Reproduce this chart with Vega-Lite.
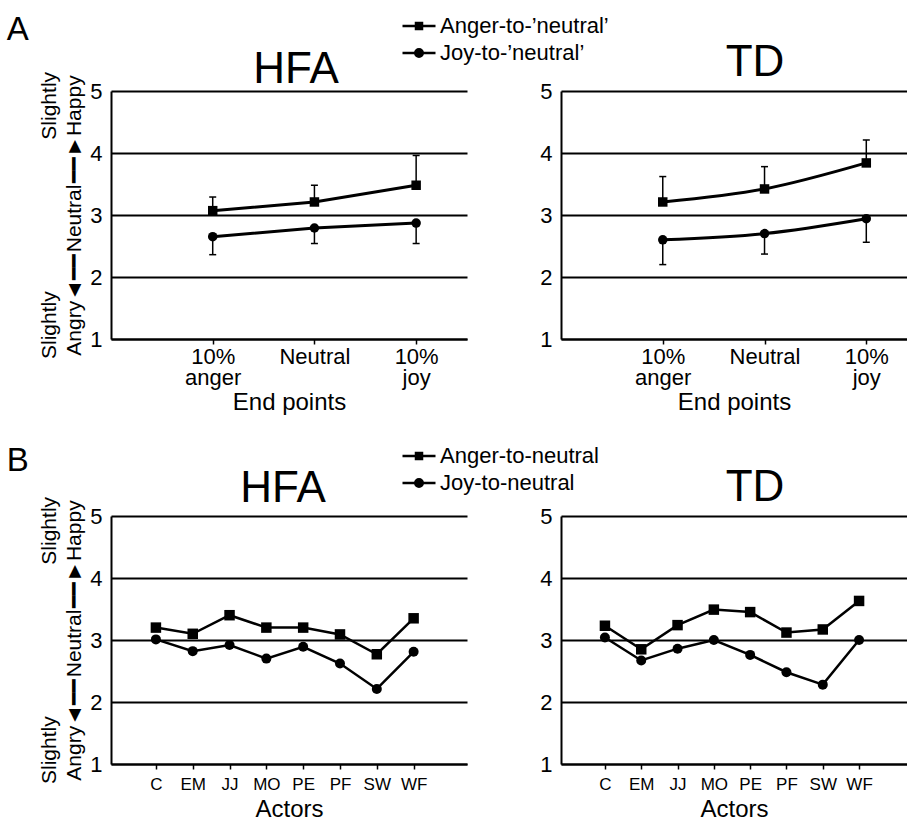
{
  "$schema": "https://vega.github.io/schema/vega-lite/v6.json",
  "background": "white",
  "padding": {"left": 6, "top": 14, "right": 0, "bottom": 0},
  "datasets": {
    "ends": [
      {"group": "HFA", "series": "Anger-to-’neutral’", "endpoint": "10% anger", "pos": 1, "mean": 3.07, "err": 3.29},
      {"group": "HFA", "series": "Anger-to-’neutral’", "endpoint": "Neutral", "pos": 2, "mean": 3.21, "err": 3.48},
      {"group": "HFA", "series": "Anger-to-’neutral’", "endpoint": "10% joy", "pos": 3, "mean": 3.48, "err": 3.96},
      {"group": "HFA", "series": "Joy-to-’neutral’", "endpoint": "10% anger", "pos": 1, "mean": 2.65, "err": 2.36},
      {"group": "HFA", "series": "Joy-to-’neutral’", "endpoint": "Neutral", "pos": 2, "mean": 2.79, "err": 2.54},
      {"group": "HFA", "series": "Joy-to-’neutral’", "endpoint": "10% joy", "pos": 3, "mean": 2.87, "err": 2.54},
      {"group": "TD", "series": "Anger-to-’neutral’", "endpoint": "10% anger", "pos": 1, "mean": 3.21, "err": 3.62},
      {"group": "TD", "series": "Anger-to-’neutral’", "endpoint": "Neutral", "pos": 2, "mean": 3.42, "err": 3.78},
      {"group": "TD", "series": "Anger-to-’neutral’", "endpoint": "10% joy", "pos": 3, "mean": 3.84, "err": 4.21},
      {"group": "TD", "series": "Joy-to-’neutral’", "endpoint": "10% anger", "pos": 1, "mean": 2.60, "err": 2.20},
      {"group": "TD", "series": "Joy-to-’neutral’", "endpoint": "Neutral", "pos": 2, "mean": 2.70, "err": 2.37},
      {"group": "TD", "series": "Joy-to-’neutral’", "endpoint": "10% joy", "pos": 3, "mean": 2.94, "err": 2.56}
    ],
    "actors": [
      {"group": "HFA", "series": "Anger-to-neutral", "actor": "C", "pos": 1, "mean": 3.20},
      {"group": "HFA", "series": "Anger-to-neutral", "actor": "EM", "pos": 2, "mean": 3.10},
      {"group": "HFA", "series": "Anger-to-neutral", "actor": "JJ", "pos": 3, "mean": 3.40},
      {"group": "HFA", "series": "Anger-to-neutral", "actor": "MO", "pos": 4, "mean": 3.20},
      {"group": "HFA", "series": "Anger-to-neutral", "actor": "PE", "pos": 5, "mean": 3.20},
      {"group": "HFA", "series": "Anger-to-neutral", "actor": "PF", "pos": 6, "mean": 3.09},
      {"group": "HFA", "series": "Anger-to-neutral", "actor": "SW", "pos": 7, "mean": 2.77},
      {"group": "HFA", "series": "Anger-to-neutral", "actor": "WF", "pos": 8, "mean": 3.35},
      {"group": "HFA", "series": "Joy-to-neutral", "actor": "C", "pos": 1, "mean": 3.01},
      {"group": "HFA", "series": "Joy-to-neutral", "actor": "EM", "pos": 2, "mean": 2.82},
      {"group": "HFA", "series": "Joy-to-neutral", "actor": "JJ", "pos": 3, "mean": 2.92},
      {"group": "HFA", "series": "Joy-to-neutral", "actor": "MO", "pos": 4, "mean": 2.70},
      {"group": "HFA", "series": "Joy-to-neutral", "actor": "PE", "pos": 5, "mean": 2.89},
      {"group": "HFA", "series": "Joy-to-neutral", "actor": "PF", "pos": 6, "mean": 2.62},
      {"group": "HFA", "series": "Joy-to-neutral", "actor": "SW", "pos": 7, "mean": 2.21},
      {"group": "HFA", "series": "Joy-to-neutral", "actor": "WF", "pos": 8, "mean": 2.81},
      {"group": "TD", "series": "Anger-to-neutral", "actor": "C", "pos": 1, "mean": 3.23},
      {"group": "TD", "series": "Anger-to-neutral", "actor": "EM", "pos": 2, "mean": 2.85},
      {"group": "TD", "series": "Anger-to-neutral", "actor": "JJ", "pos": 3, "mean": 3.24},
      {"group": "TD", "series": "Anger-to-neutral", "actor": "MO", "pos": 4, "mean": 3.49},
      {"group": "TD", "series": "Anger-to-neutral", "actor": "PE", "pos": 5, "mean": 3.45},
      {"group": "TD", "series": "Anger-to-neutral", "actor": "PF", "pos": 6, "mean": 3.12},
      {"group": "TD", "series": "Anger-to-neutral", "actor": "SW", "pos": 7, "mean": 3.17},
      {"group": "TD", "series": "Anger-to-neutral", "actor": "WF", "pos": 8, "mean": 3.63},
      {"group": "TD", "series": "Joy-to-neutral", "actor": "C", "pos": 1, "mean": 3.04},
      {"group": "TD", "series": "Joy-to-neutral", "actor": "EM", "pos": 2, "mean": 2.67},
      {"group": "TD", "series": "Joy-to-neutral", "actor": "JJ", "pos": 3, "mean": 2.86},
      {"group": "TD", "series": "Joy-to-neutral", "actor": "MO", "pos": 4, "mean": 3.00},
      {"group": "TD", "series": "Joy-to-neutral", "actor": "PE", "pos": 5, "mean": 2.76},
      {"group": "TD", "series": "Joy-to-neutral", "actor": "PF", "pos": 6, "mean": 2.48},
      {"group": "TD", "series": "Joy-to-neutral", "actor": "SW", "pos": 7, "mean": 2.28},
      {"group": "TD", "series": "Joy-to-neutral", "actor": "WF", "pos": 8, "mean": 3.00}
    ]
  },
  "config": {
    "font": "Liberation Sans",
    "view": {"stroke": null},
    "title": {"fontSize": 44, "fontWeight": "normal", "color": "black", "font": "Liberation Sans"},
    "axis": {
      "labelFont": "Liberation Sans", "labelColor": "black", "labelFontSize": 22,
      "titleFont": "Liberation Sans", "titleColor": "black", "titleFontWeight": "normal", "titleFontSize": 24,
      "domainColor": "black", "domainWidth": 2, "tickColor": "black",
      "gridColor": "black", "gridWidth": 2, "gridOpacity": 1
    },
    "axisX": {"grid": false, "ticks": true, "tickSize": 5, "tickWidth": 1.5, "labelPadding": 2, "titlePadding": 2, "labelLineHeight": 21},
    "axisY": {"ticks": false, "tickSize": 0, "labelPadding": 9, "titleLineHeight": 25, "titlePadding": 5},
    "legend": {
      "orient": "none", "title": null, "padding": 0,
      "labelFont": "Liberation Sans", "labelFontSize": 22, "labelColor": "black", "labelOffset": 10, "labelLimit": 400,
      "rowPadding": 5, "symbolSize": 100, "symbolStrokeWidth": 2.5,
      "symbolFillColor": "black", "symbolStrokeColor": "black", "symbolOpacity": 1
    }
  },
  "spacing": 31,
  "resolve": {"scale": {"shape": "independent"}, "legend": {"shape": "independent"}},
  "vconcat": [
    {
      "title": {"text": "A", "anchor": "start", "frame": "bounds", "fontSize": 33, "dx": -32, "dy": 32, "offset": 0},
      "spacing": 94,
      "bounds": "flush",
      "hconcat": [
        {
          "width": 356, "height": 248,
          "title": {"text": "HFA", "dx": 7, "dy": 25},
          "data": {"name": "ends"},
          "transform": [{"filter": "datum.group === 'HFA'"}],
          "encoding": {
            "x": {"field": "pos", "type": "quantitative", "scale": {"domain": [0, 3.5], "nice": false, "zero": false},
                  "axis": {"values": [1, 2, 3], "labelExpr": "datum.value === 1 ? ['10%','anger'] : datum.value === 2 ? 'Neutral' : ['10%','joy']", "title": "End points"}},
            "y": {"field": "mean", "type": "quantitative", "scale": {"domain": [1, 5], "nice": false, "zero": false},
                  "axis": {"values": [1, 2, 3, 4, 5], "titleFontSize": 21, "title": ["\u00a0\u00a0\u00a0\u00a0Slightly\u00a0\u00a0\u00a0\u00a0\u00a0\u00a0\u00a0\u00a0\u00a0\u00a0\u00a0\u00a0\u00a0\u00a0\u00a0\u00a0\u00a0\u00a0\u00a0\u00a0\u00a0\u00a0\u00a0\u00a0\u00a0\u00a0Slightly", "\u00a0\u00a0Angry◄━━\u200aNeutral\u200a━━►Happy"]}}
          },
          "layer": [
            {"mark": {"type": "rule", "color": "black", "strokeWidth": 1.5}, "encoding": {"y2": {"field": "err"}}},
            {"mark": {"type": "tick", "color": "black", "orient": "horizontal", "size": 7, "thickness": 1.5, "opacity": 1},
             "encoding": {"y": {"field": "err", "type": "quantitative", "scale": {"domain": [1, 5], "nice": false, "zero": false}}}},
            {"mark": {"type": "line", "color": "black", "strokeWidth": 3}, "encoding": {"detail": {"field": "series"}}},
            {"transform": [{"filter": "indexof(datum.series,'Anger') === 0"}],
             "mark": {"type": "point", "shape": "square", "filled": true, "color": "black", "size": 90, "opacity": 1}},
            {"transform": [{"filter": "indexof(datum.series,'Joy') === 0"}],
             "mark": {"type": "point", "shape": "circle", "filled": true, "color": "black", "size": 90, "opacity": 1}},
            {"transform": [{"filter": "false"}],
             "mark": {"type": "point", "filled": false, "color": "black", "strokeWidth": 2.5, "opacity": 1},
             "encoding": {"shape": {"field": "series", "type": "nominal",
               "scale": {"domain": ["Anger-to-’neutral’", "Joy-to-’neutral’"], "range": ["M-3.3,0H3.3M-0.85,-0.6H0.85M-0.85,-0.3H0.85M-0.85,0.3H0.85M-0.85,0.6H0.85", "M-3.3,0H3.3M0.75,0A0.75,0.75,0,1,1,-0.75,0A0.75,0.75,0,1,1,0.75,0M0.35,0A0.35,0.35,0,1,1,-0.35,0A0.35,0.35,0,1,1,0.35,0"]},
               "legend": {"legendX": 297, "legendY": -76}}}}
          ]
        },
        {
          "width": 346, "height": 248,
          "title": {"text": "TD", "dx": 21, "dy": 9},
          "data": {"name": "ends"},
          "transform": [{"filter": "datum.group === 'TD'"}],
          "encoding": {
            "x": {"field": "pos", "type": "quantitative", "scale": {"domain": [0, 3.4], "nice": false, "zero": false},
                  "axis": {"values": [1, 2, 3], "labelExpr": "datum.value === 1 ? ['10%','anger'] : datum.value === 2 ? 'Neutral' : ['10%','joy']", "title": "End points"}},
            "y": {"field": "mean", "type": "quantitative", "scale": {"domain": [1, 5], "nice": false, "zero": false},
                  "axis": {"values": [1, 2, 3, 4, 5], "title": null}}
          },
          "layer": [
            {"mark": {"type": "rule", "color": "black", "strokeWidth": 1.5}, "encoding": {"y2": {"field": "err"}}},
            {"mark": {"type": "tick", "color": "black", "orient": "horizontal", "size": 7, "thickness": 1.5, "opacity": 1},
             "encoding": {"y": {"field": "err", "type": "quantitative", "scale": {"domain": [1, 5], "nice": false, "zero": false}}}},
            {"mark": {"type": "line", "color": "black", "strokeWidth": 3, "interpolate": "monotone"}, "encoding": {"detail": {"field": "series"}}},
            {"transform": [{"filter": "indexof(datum.series,'Anger') === 0"}],
             "mark": {"type": "point", "shape": "square", "filled": true, "color": "black", "size": 90, "opacity": 1}},
            {"transform": [{"filter": "indexof(datum.series,'Joy') === 0"}],
             "mark": {"type": "point", "shape": "circle", "filled": true, "color": "black", "size": 90, "opacity": 1}}
          ]
        }
      ]
    },
    {
      "title": {"text": "B", "anchor": "start", "frame": "bounds", "fontSize": 33, "dx": -32, "dy": 33, "offset": 0},
      "spacing": 94,
      "bounds": "flush",
      "hconcat": [
        {
          "width": 356, "height": 248,
          "title": {"text": "HFA", "dx": -6, "dy": 19},
          "data": {"name": "actors"},
          "transform": [{"filter": "datum.group === 'HFA'"}],
          "encoding": {
            "x": {"field": "pos", "type": "quantitative", "scale": {"domain": [-0.22, 9.45], "nice": false, "zero": false},
                  "axis": {"values": [1, 2, 3, 4, 5, 6, 7, 8], "labelExpr": "['C','EM','JJ','MO','PE','PF','SW','WF'][datum.value - 1]", "labelFontSize": 17, "labelPadding": 7, "titlePadding": 5, "title": "Actors"}},
            "y": {"field": "mean", "type": "quantitative", "scale": {"domain": [1, 5], "nice": false, "zero": false},
                  "axis": {"values": [1, 2, 3, 4, 5], "titleFontSize": 21, "title": ["\u00a0\u00a0\u00a0\u00a0Slightly\u00a0\u00a0\u00a0\u00a0\u00a0\u00a0\u00a0\u00a0\u00a0\u00a0\u00a0\u00a0\u00a0\u00a0\u00a0\u00a0\u00a0\u00a0\u00a0\u00a0\u00a0\u00a0\u00a0\u00a0\u00a0\u00a0Slightly", "Angry◄━━\u200aNeutral\u200a━━►Happy"]}}
          },
          "layer": [
            {"mark": {"type": "line", "color": "black", "strokeWidth": 2.5}, "encoding": {"detail": {"field": "series"}}},
            {"transform": [{"filter": "indexof(datum.series,'Anger') === 0"}],
             "mark": {"type": "point", "shape": "square", "filled": true, "color": "black", "size": 110, "opacity": 1}},
            {"transform": [{"filter": "indexof(datum.series,'Joy') === 0"}],
             "mark": {"type": "point", "shape": "circle", "filled": true, "color": "black", "size": 100, "opacity": 1}},
            {"transform": [{"filter": "false"}],
             "mark": {"type": "point", "filled": false, "color": "black", "strokeWidth": 2.5, "opacity": 1},
             "encoding": {"shape": {"field": "series", "type": "nominal",
               "scale": {"domain": ["Anger-to-neutral", "Joy-to-neutral"], "range": ["M-3.3,0H3.3M-0.85,-0.6H0.85M-0.85,-0.3H0.85M-0.85,0.3H0.85M-0.85,0.6H0.85", "M-3.3,0H3.3M0.75,0A0.75,0.75,0,1,1,-0.75,0A0.75,0.75,0,1,1,0.75,0M0.35,0A0.35,0.35,0,1,1,-0.35,0A0.35,0.35,0,1,1,0.35,0"]},
               "legend": {"legendX": 297, "legendY": -71}}}}
          ]
        },
        {
          "width": 346, "height": 248,
          "title": {"text": "TD", "dx": 21, "dy": 9},
          "data": {"name": "actors"},
          "transform": [{"filter": "datum.group === 'TD'"}],
          "encoding": {
            "x": {"field": "pos", "type": "quantitative", "scale": {"domain": [-0.21, 9.32], "nice": false, "zero": false},
                  "axis": {"values": [1, 2, 3, 4, 5, 6, 7, 8], "labelExpr": "['C','EM','JJ','MO','PE','PF','SW','WF'][datum.value - 1]", "labelFontSize": 17, "labelPadding": 7, "titlePadding": 5, "title": "Actors"}},
            "y": {"field": "mean", "type": "quantitative", "scale": {"domain": [1, 5], "nice": false, "zero": false},
                  "axis": {"values": [1, 2, 3, 4, 5], "title": null}}
          },
          "layer": [
            {"mark": {"type": "line", "color": "black", "strokeWidth": 2.5}, "encoding": {"detail": {"field": "series"}}},
            {"transform": [{"filter": "indexof(datum.series,'Anger') === 0"}],
             "mark": {"type": "point", "shape": "square", "filled": true, "color": "black", "size": 110, "opacity": 1}},
            {"transform": [{"filter": "indexof(datum.series,'Joy') === 0"}],
             "mark": {"type": "point", "shape": "circle", "filled": true, "color": "black", "size": 100, "opacity": 1}}
          ]
        }
      ]
    }
  ]
}
